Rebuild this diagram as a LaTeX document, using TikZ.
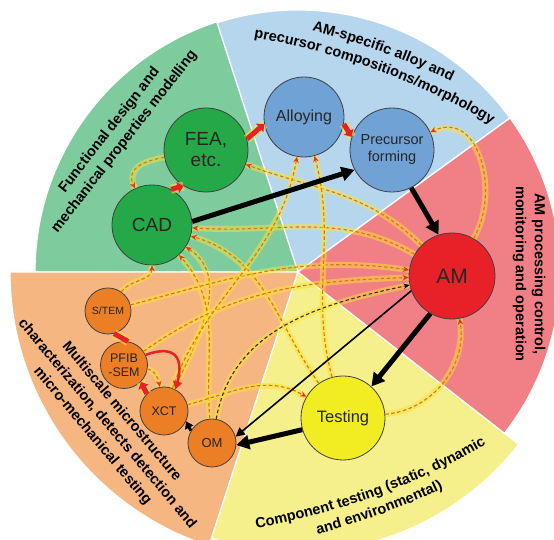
\documentclass[tikz,border=0pt]{standalone}
\usepackage{fontspec}
\setmainfont{Liberation Sans}
\usepackage{tikz}
\usetikzlibrary{arrows.meta,decorations.text}

\definecolor{secgreen}{RGB}{126,204,158}
\definecolor{secblue}{RGB}{182,214,238}
\definecolor{secred}{RGB}{240,128,134}
\definecolor{secyellow}{RGB}{246,240,140}
\definecolor{secorange}{RGB}{246,182,130}
\definecolor{cirgreen}{RGB}{36,168,72}
\definecolor{cirblue}{RGB}{112,162,214}
\definecolor{cirred}{RGB}{232,32,40}
\definecolor{ciryellow}{RGB}{242,236,34}
\definecolor{cirorange}{RGB}{236,126,38}
\definecolor{fbdash}{RGB}{214,116,34}
\definecolor{fbhead}{RGB}{228,52,30}
\definecolor{glow}{RGB}{255,226,50}

\newcommand{\labfont}{\bfseries\fontsize{14.5}{19}\selectfont}

\tikzstyle{sector}=[draw=white, line width=1.2pt, line join=round]
\tikzstyle{circ}=[circle, draw=black!75, line width=0.8pt, inner sep=0pt, align=center, text=black!85]
\tikzstyle{pgreen}=[circ, fill=cirgreen]
\tikzstyle{pblue}=[circ, fill=cirblue]
\tikzstyle{pred}=[circ, fill=cirred]
\tikzstyle{pyellow}=[circ, fill=ciryellow]
\tikzstyle{porange}=[circ, fill=cirorange]
\tikzstyle{seclabel}=[align=center, font=\labfont, inner sep=0pt]
\tikzstyle{flow}=[draw=black, line width=5pt, -{Triangle[length=13pt,width=14pt]}]
\tikzstyle{thinflow}=[draw=black, line width=1.6pt, -{Triangle[length=9pt,width=9pt]}]
\tikzstyle{redarrow}=[draw=cirred, line width=5pt, -{Triangle[length=6pt,width=11pt]}, preaction={draw=glow, line width=9pt, opacity=.6, -}]
\tikzstyle{feedback}=[draw=fbdash, line width=1.1pt, dash pattern=on 3.5pt off 2.5pt, -{Stealth[fbhead, length=6pt, width=5.5pt, inset=2pt]}, preaction={draw=glow, line width=6pt, opacity=.5, solid, -}]
\tikzstyle{feedblack}=[feedback, draw=black!80, -{Stealth[black, length=6pt, width=5.5pt, inset=2pt]}]

\begin{document}
\begin{tikzpicture}[x=1pt, y=1pt]
		\useasboundingbox (0,0) rectangle (554,540);
		\coordinate (w) at (298,268);
		\coordinate (topc) at (137,-188);
		\coordinate (botc) at (133,708);
		% wheel
		\begin{scope}
			\path [sector, fill=secblue] (w) -- ++(36:262) arc[start angle=36, end angle=108, radius=262] -- cycle;
			\path [sector, fill=secgreen] (w) -- ++(108:263) arc[start angle=108, end angle=180, radius=263] -- cycle;
			\path [sector, fill=secorange] (w) -- ++(180:288) arc[start angle=180, end angle=252, radius=288] -- cycle;
			\path [sector, fill=secyellow] (w) -- ++(252:280) arc[start angle=252, end angle=322, radius=280] -- cycle;
			\path [sector, fill=secred] (w) -- ++(322:262) arc[start angle=322, end angle=396, radius=262] -- cycle;
		\end{scope}
		% sector titles
		\begin{scope}
			\node (lgreen) at (117,404) [seclabel, rotate=52] {Functional design and\\mechanical properties modelling};
			\node (lred) at (529,266) [seclabel, rotate=-90] {AM processing control,\\monitoring and operation};
			\node (lorange) at (107,116) [seclabel, rotate=-50] {Multiscale microstructure\\characterization, detects detection and\\micro-mechanical testing};
			\path [decorate, decoration={text along path, text align=center, text={|\labfont|AM-specific alloy and}}] ([shift={(86:719)}]topc) arc[start angle=86, end angle=54, radius=719];
			\path [decorate, decoration={text along path, text align=center, text={|\labfont|precursor compositions/morphology}}] ([shift={(86:700)}]topc) arc[start angle=86, end angle=54, radius=700];
			\path [decorate, decoration={text along path, text align=center, text={|\labfont|Component testing (static, dynamic}}] ([shift={(274:707)}]botc) arc[start angle=274, end angle=306, radius=707];
			\path [decorate, decoration={text along path, text align=center, text={|\labfont|and environmental)}}] ([shift={(274:726)}]botc) arc[start angle=274, end angle=306, radius=726];
		\end{scope}
		% stages
		\begin{scope}
			\node (cad) at (152,315) [pgreen, minimum size=80pt, font=\fontsize{19}{20}\selectfont] {CAD};
			\node (fea) at (206,390) [pgreen, minimum size=84pt, font=\fontsize{19}{21}\selectfont] {FEA,\\etc.};
			\node (alloy) at (304,423) [pblue, minimum size=80pt, font=\fontsize{16}{18}\selectfont] {Alloying};
			\node (prec) at (392,390) [pblue, minimum size=84pt, font=\fontsize{14.5}{17}\selectfont] {Precursor\\forming};
			\node (am) at (452,264) [pred, minimum size=86pt, font=\fontsize{21}{22}\selectfont] {AM};
			\node (test) at (343,122) [pyellow, minimum size=84pt, font=\fontsize{16.5}{18}\selectfont] {Testing};
			\node (om) at (212,97) [porange, minimum size=48pt, font=\fontsize{13}{14}\selectfont] {OM};
			\node (xct) at (164,129) [porange, minimum size=48pt, font=\fontsize{12.5}{14}\selectfont] {XCT};
			\node (pfib) at (124,175) [porange, minimum size=47pt, font=\fontsize{12.5}{14}\selectfont] {PFIB\\-SEM};
			\node (stem) at (108,229) [porange, minimum size=46pt, font=\fontsize{10.5}{12}\selectfont] {S/TEM};
		\end{scope}
		% feedback loops
		\begin{scope}
			\path (fea) edge[feedback, out=190, in=115, looseness=1.3] (cad);
			\path (am) edge[feedback, out=60, in=25, looseness=1.2] (prec);
			\path (test) edge[feedback, out=5, in=-80] (am);
			\path (am) edge[feedback, out=135, in=-20] (fea);
			\path (am) edge[feedback, out=150, in=-4] (cad);
			\path (test) edge[feedback, out=125, in=-16] (cad);
			\path (xct) edge[feedback, out=65, in=-33] (cad);
			\path (om) edge[feedback, out=95, in=-48] (cad);
			\path (stem) edge[feedback, out=55, in=-90] (cad);
			\path (stem) edge[feedback, out=15, in=172] (am);
			\path (pfib) edge[feedback, out=35, in=182] (am);
			\path (test) edge[feedback, out=105, in=-75] (alloy);
			\path (xct) edge[feedback, out=70, in=-100] (alloy);
			\path (xct) edge[feedback, out=15, in=150] (test);
			\path (pfib) edge[feedback, out=-10, in=100] (xct);
			\path (om) edge[feedblack, out=80, in=192] (am);
		\end{scope}
		% main flow
		\begin{scope}
			\path (cad.5) edge[flow] (prec.208);
			\path (prec.-63) edge[flow] (am.108);
			\path (am.-120) edge[flow] (test.48);
			\path (am.200) edge[thinflow] (om.15);
			\path (test.196) edge[flow] (om.-5);
			\path (om.150) edge[flow, line width=3pt, -{Triangle[length=7pt,width=9pt]}] (xct.-25);
			\path (cad.62) edge[redarrow] (fea.238);
			\path (fea.15) edge[redarrow] (alloy.190);
			\path (alloy.-10) edge[redarrow] (prec.162);
			\path (stem.-75) edge[redarrow, -] (pfib.80);
			\path (xct.135) edge[redarrow] (pfib.-45);
			\path (pfib.25) edge[draw=cirred, line width=2.5pt, -{Triangle[length=8pt,width=9pt]}, out=20, in=75, looseness=1.8] (xct.62);
		\end{scope}
\end{tikzpicture}
\end{document}
